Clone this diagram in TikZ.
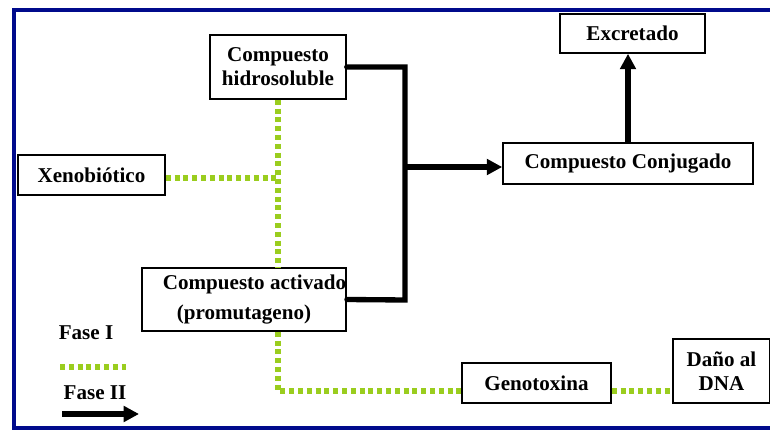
\documentclass[tikz,border=0pt]{standalone}
\usepackage{fontspec}
\setmainfont{Liberation Serif}
\usetikzlibrary{arrows.meta,positioning}
\definecolor{framenavy}{HTML}{000A8C}
\definecolor{faseonegreen}{HTML}{9ACD1E}

\begin{document}
\begin{tikzpicture}[x=0.75pt, y=-0.75pt,
    every node/.style={font=\bfseries\fontsize{15.8}{18}\selectfont},
    stepbox/.style={draw, line width=1.2pt, fill=white, inner sep=0pt, align=center},
    faseone/.style={faseonegreen, line width=4pt, dash pattern=on 3.8pt off 2.8pt},
    fasetwo/.style={black, line width=4pt, line cap=round},
    fasetwoarrow/.style={black, line width=4pt, -{Triangle[length=11.5pt, width=11.5pt]}}]
  \useasboundingbox (0,0) rectangle (770,431);
  % --- Frame ---
  \draw[framenavy, line width=3pt] (14,10) rectangle (790,428);

  % --- Boxes ---
  \node[stepbox, minimum width=136*0.75pt, minimum height=64*0.75pt] (hidro) at (278,67) {Compuesto\\hidrosoluble};
  \node[stepbox, minimum width=147*0.75pt, minimum height=40*0.75pt] (xeno) at (91.5,175) {Xenobiótico};
  \node[stepbox, minimum width=204*0.75pt, minimum height=63*0.75pt, font=\bfseries\fontsize{15.8}{22}\selectfont] (activ) at (244,299.5) {\hspace*{1em}Compuesto activado\\(promutageno)};
  \node[stepbox, minimum width=145*0.75pt, minimum height=39*0.75pt] (excr) at (632.5,33.5) {Excretado};
  \node[stepbox, minimum width=250*0.75pt, minimum height=41*0.75pt] (conj) at (628,163.5) {Compuesto Conjugado};
  \node[stepbox, minimum width=149*0.75pt, minimum height=40*0.75pt] (geno) at (536.5,383) {Genotoxina};
  \node[stepbox, minimum width=97*0.75pt, minimum height=64*0.75pt] (dano) at (721.5,371) {Daño al\\DNA};

  % --- Fase II (black) ---
  \coordinate (jbot) at (405,300);
  \coordinate (jmid) at (405,167);
  \coordinate (upx) at (628,0);
  \draw[fasetwo] (hidro.east) -| (jbot) -- (activ.east);
  \draw[fasetwoarrow] (jmid) -- (jmid -| conj.west);
  \draw[fasetwoarrow] (conj.north -| upx) -- (excr.south -| upx);

  % --- Fase I (green dotted) ---
  \coordinate (xenoy) at (0,178);
  \coordinate (gcorner) at (278,391);
  \draw[faseone] (xeno.east |- xenoy) -- (hidro.south |- xenoy);
  \draw[faseone] (hidro.south) -- (hidro.south |- activ.north);
  \draw[faseone] (hidro.south |- activ.south) -- (gcorner) -- (gcorner -| geno.west);
  \draw[faseone] (gcorner -| geno.east) -- (gcorner -| dano.west);

  % --- Legend ---
  \node (fase1) at (86,333) {Fase I};
  \node (fase2) at (95,393) {Fase II};
  \coordinate (leg1a) at (60,367);
  \coordinate (leg1b) at (126,367);
  \coordinate (leg2a) at (62,414);
  \coordinate (leg2b) at (139,414);
  \draw[faseone] (leg1a) -- (leg1b);
  \draw[fasetwoarrow] (leg2a) -- (leg2b);
\end{tikzpicture}
\end{document}
